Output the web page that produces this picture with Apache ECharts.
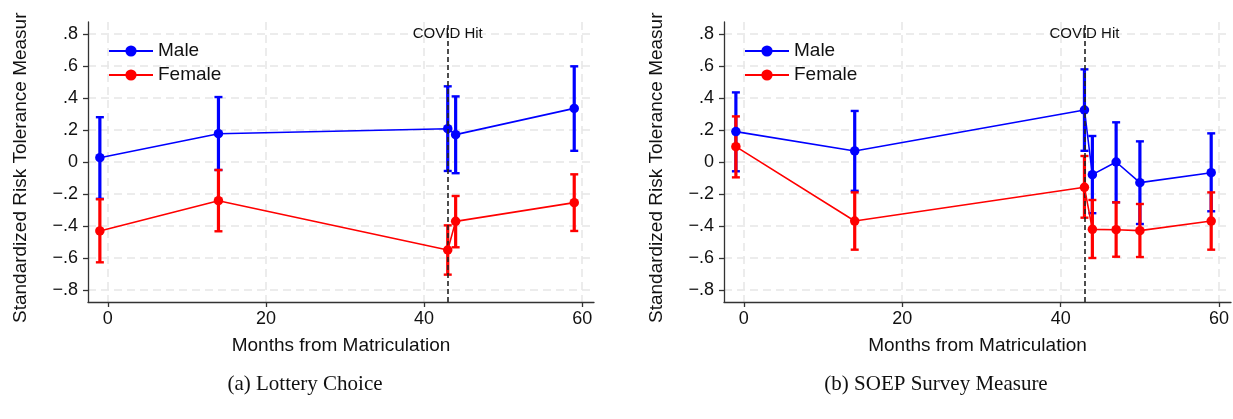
<!DOCTYPE html>
<html>
<head>
<meta charset="utf-8">
<script src="https://cdn.jsdelivr.net/npm/echarts@6/dist/echarts.min.js"></script>
<style>html,body{margin:0;padding:0;background:#fff;}#chart{width:1233px;height:419px;}</style>
</head>
<body>
<div id="chart"></div>
<script>
// ---- Data ----
const yTicks = [-0.8, -0.6, -0.4, -0.2, 0, 0.2, 0.4, 0.6, 0.8];
const xTicks = [0, 20, 40, 60];
const covidMonth = 43;

// Panel (a) Lottery Choice
const lotMonths = [-1, 14, 43, 44, 59];
const lotMale = [0.027, 0.177, 0.208, 0.171, 0.335];
const lotMaleLo = [-0.23, -0.05, -0.056, -0.07, 0.07];
const lotMaleHi = [0.28, 0.406, 0.473, 0.41, 0.598];
const lotFemale = [-0.431, -0.242, -0.55, -0.371, -0.254];
const lotFemaleLo = [-0.627, -0.433, -0.704, -0.533, -0.431];
const lotFemaleHi = [-0.233, -0.05, -0.396, -0.2125, -0.077];

// Panel (b) SOEP Survey Measure
const soepMonths = [-1, 14, 43, 44, 47, 50, 59];
const soepMale = [0.19, 0.069, 0.325, -0.079, 0.0, -0.129, -0.067];
const soepMaleLo = [-0.058, -0.18, 0.07, -0.32, -0.252, -0.3875, -0.308];
const soepMaleHi = [0.435, 0.319, 0.579, 0.1625, 0.248, 0.129, 0.179];
const soepFemale = [0.096, -0.369, -0.158, -0.421, -0.423, -0.429, -0.369];
const soepFemaleLo = [-0.096, -0.548, -0.348, -0.6, -0.592, -0.594, -0.548];
const soepFemaleHi = [0.285, -0.19, 0.0375, -0.2375, -0.252, -0.2625, -0.19];

const seriesNames = ['Male', 'Female'];
const titles = ['(a) Lottery Choice', '(b) SOEP Survey Measure'];
const yTitle = 'Standardized Risk Tolerance Measur';
const xTitle = 'Months from Matriculation';

// ---- Styling ----
const BLUE = '#0000ff', RED = '#ff0000';
const FONT = '"Liberation Sans", Arial, Helvetica, sans-serif';
const grids = [
  {left: 88, top: 22, width: 506, height: 280},
  {left: 724, top: 22, width: 507, height: 280}
];

function yFmt(v) {
  if (Math.abs(v) < 1e-9) return '0';
  const s = Math.abs(v).toFixed(1).replace(/^0/, '');
  return (v < 0 ? '\u2212' : '') + s;
}

function errRender(color) {
  return function (params, api) {
    const x = api.value(0), lo = api.value(1), hi = api.value(2);
    const p1 = api.coord([x, hi]), p2 = api.coord([x, lo]);
    const c = 4;
    return {
      type: 'group',
      children: [
        {type: 'line', shape: {x1: p1[0], y1: p1[1], x2: p2[0], y2: p2[1]}, style: {stroke: color, lineWidth: 3.2}},
        {type: 'line', shape: {x1: p1[0] - c, y1: p1[1], x2: p1[0] + c, y2: p1[1]}, style: {stroke: color, lineWidth: 2.4}},
        {type: 'line', shape: {x1: p2[0] - c, y1: p2[1], x2: p2[0] + c, y2: p2[1]}, style: {stroke: color, lineWidth: 2.4}}
      ]
    };
  };
}

function zip3(a, b, c) { return a.map((v, i) => [v, b[i], c[i]]); }
function zip2(a, b) { return a.map((v, i) => [v, b[i]]); }

const xAxes = [], yAxes = [], series = [], legends = [], graphics = [];
const panels = [
  {months: lotMonths, m: lotMale, mlo: lotMaleLo, mhi: lotMaleHi, f: lotFemale, flo: lotFemaleLo, fhi: lotFemaleHi},
  {months: soepMonths, m: soepMale, mlo: soepMaleLo, mhi: soepMaleHi, f: soepFemale, flo: soepFemaleLo, fhi: soepFemaleHi}
];
const gridLine = {show: true, lineStyle: {color: '#e6e6e6', width: 1.5, type: [8, 5]}};

panels.forEach((p, i) => {
  xAxes.push({
    gridIndex: i, type: 'value', min: -2.5, max: 61.5,
    name: xTitle, nameLocation: 'middle', nameGap: 34,
    nameTextStyle: {fontFamily: FONT, fontSize: 19, color: '#111'},
    axisLine: {show: true, onZero: false, lineStyle: {color: '#333', width: 1.3}},
    axisTick: {show: true, length: 5, customValues: xTicks, lineStyle: {color: '#333', width: 1.3}},
    axisLabel: {customValues: xTicks, margin: 8, fontFamily: FONT, fontSize: 18, color: '#111'},
    splitLine: gridLine
  });
  yAxes.push({
    gridIndex: i, type: 'value', min: -0.875, max: 0.875,
    axisLine: {show: true, onZero: false, lineStyle: {color: '#333', width: 1.3}},
    axisTick: {show: true, length: 5, customValues: yTicks, lineStyle: {color: '#333', width: 1.3}},
    axisLabel: {customValues: yTicks, margin: 10, fontFamily: FONT, fontSize: 18, color: '#111', formatter: yFmt},
    splitLine: gridLine
  });
  // COVID reference line
  series.push({
    type: 'line', name: 'covid', xAxisIndex: i, yAxisIndex: i, data: [], silent: true, z: 1,
    markLine: {
      silent: true, symbol: 'none',
      lineStyle: {color: '#222', width: 1.6, type: [5, 3]},
      label: {show: false},
      data: [{xAxis: covidMonth}]
    },
    markPoint: {
      silent: true, symbol: 'circle', symbolSize: 0,
      label: {show: true, formatter: 'COVID Hit', color: '#111', fontFamily: FONT, fontSize: 15, position: 'inside'},
      data: [{coord: [covidMonth, 0.8]}]
    }
  });
  series.push({type: 'custom', name: seriesNames[0] + ' CI', xAxisIndex: i, yAxisIndex: i, z: 2, silent: true,
    renderItem: errRender(BLUE), encode: {x: 0, y: [1, 2]}, data: zip3(p.months, p.mlo, p.mhi)});
  series.push({type: 'custom', name: seriesNames[1] + ' CI', xAxisIndex: i, yAxisIndex: i, z: 3, silent: true,
    renderItem: errRender(RED), encode: {x: 0, y: [1, 2]}, data: zip3(p.months, p.flo, p.fhi)});
  series.push({type: 'line', name: seriesNames[0], xAxisIndex: i, yAxisIndex: i, z: 4, silent: true,
    symbol: 'circle', symbolSize: 9.5, color: BLUE, lineStyle: {color: BLUE, width: 1.6},
    itemStyle: {color: BLUE}, data: zip2(p.months, p.m)});
  series.push({type: 'line', name: seriesNames[1], xAxisIndex: i, yAxisIndex: i, z: 5, silent: true,
    symbol: 'circle', symbolSize: 9.5, color: RED, lineStyle: {color: RED, width: 1.6},
    itemStyle: {color: RED}, data: zip2(p.months, p.f)});
  legends.push({
    data: seriesNames,
    orient: 'vertical', left: grids[i].left + 15, top: 36,
    itemWidth: 44, itemHeight: 14, itemGap: 4, selectedMode: false,
    textStyle: {fontFamily: FONT, fontSize: 19, color: '#111', lineHeight: 20}
  });
  graphics.push({
    type: 'text', x: i === 0 ? 21 : 657, y: 323, rotation: Math.PI / 2,
    style: {text: yTitle, fontFamily: FONT, fontSize: 19, fill: '#111', align: 'left', verticalAlign: 'middle'}
  });
  graphics.push({
    type: 'text', x: i === 0 ? 305 : 936, y: 384,
    style: {text: titles[i], fontFamily: '"Liberation Serif", "Times New Roman", serif', fontSize: 21, fill: '#111', align: 'center', verticalAlign: 'middle'}
  });
});

const chart = echarts.init(document.getElementById('chart'), null, {renderer: 'canvas'});
chart.setOption({
  animation: false,
  backgroundColor: '#fff',
  grid: grids,
  xAxis: xAxes,
  yAxis: yAxes,
  legend: legends,
  graphic: graphics,
  series: series
});
</script>
</body>
</html>
